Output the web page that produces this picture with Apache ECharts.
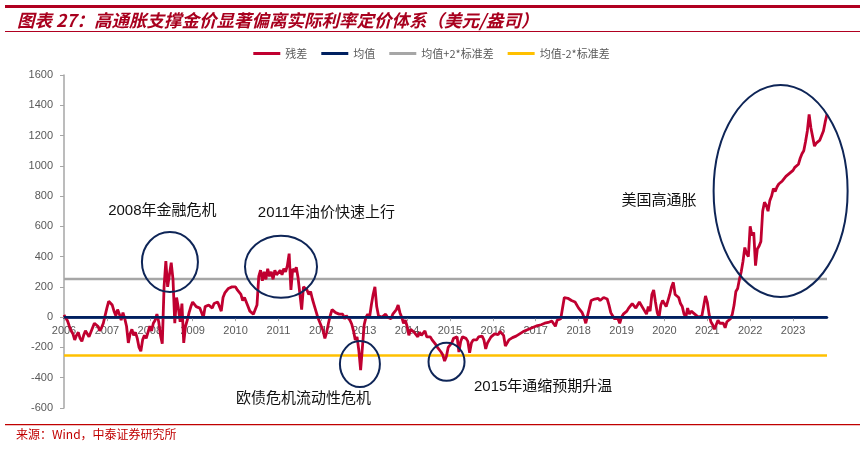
<!DOCTYPE html>
<html>
<head>
<meta charset="utf-8">
<title>高通胀支撑金价显著偏离实际利率定价体系</title>
<script src="https://cdn.jsdelivr.net/npm/echarts@6.0.0/dist/echarts.min.js"></script>
<style>
    html, body { margin: 0; padding: 0; background: #fff; }
    #main { width: 863px; height: 451px; }
</style>
</head>
<body>
<div id="main"></div>
<script type="text/javascript">
    // 残差：半月一个点，从2006年初开始
    var startYear = 2006;
    var pointsPerYear = 24;
    var resid2006 = [15, 5, -25, -60, -90, -110, -150, -120, -100, -140, -160, -120, -90, -110, -130, -100, -70, -40, -30, -60, -90, -70, -40, 10];
    var resid2007 = [60, 105, 110, 80, 40, 10, 50, 20, -20, 30, -10, -60, -170, -110, -80, -120, -100, -140, -200, -225, -150, -120, -140, -100];
    var resid2008 = [-60, -90, -40, -20, 20, -30, -120, -176, 200, 370, 200, 190, 360, 250, -40, 130, 60, -30, 90, -170, -60, -20, 30, 70];
    var resid2009 = [100, 90, 70, 80, 60, 50, 0, 70, 60, 80, 70, 60, 90, 80, 100, 90, 40, 130, 160, 170, 190, 180, 200, 190];
    var resid2010 = [200, 180, 190, 150, 110, 130, 100, 70, 40, 50, 20, 10, 80, 270, 310, 240, 300, 250, 320, 270, 300, 250, 310, 280];
    var resid2011 = [290, 310, 280, 320, 300, 340, 420, 180, 320, 300, 330, 260, 250, 50, 200, 190, 180, 150, 170, 120, 80, 40, 0, -30];
    var resid2012 = [-40, -90, -140, -100, -40, 10, 50, 55, 30, 40, 20, 10, 20, -10, 10, 0, -20, -45, -90, -150, -130, -220, -350, -200];
    var resid2013 = [-50, 0, 20, 0, 80, 150, 200, 70, 10, 20, 0, 10, 20, 0, 10, -10, 20, 10, 50, 80, 30, 0, -40, -20];
    var resid2014 = [-60, -120, -80, -90, -100, -110, -130, -100, -120, -110, -90, -130, -140, -130, -150, -160, -180, -200, -210, -230, -250, -290, -260, -200];
    var resid2015 = [-190, -170, -140, -150, -130, -230, -160, -130, -120, -140, -160, -235, -170, -150, -140, -150, -130, -140, -125, -150, -210, -170, -150, -130];
    var resid2016 = [-120, -110, -100, -115, -95, -90, -120, -190, -170, -150, -140, -135, -130, -125, -115, -110, -105, -95, -90, -85, -80, -75, -70, -65];
    var resid2017 = [-60, -55, -50, -50, -45, -40, -40, -35, -30, -25, -25, -60, -20, -30, -10, 60, 130, 120, 125, 115, 110, 105, 100, 100];
    var resid2018 = [60, 50, 30, 0, -40, 10, 60, 110, 100, 120, 115, 125, 110, 120, 130, 135, 120, 80, 30, 10, -10, 0, -10, -40];
    var resid2019 = [0, 20, 30, 40, 60, 70, 90, 80, 60, 80, 100, 90, 60, 40, 20, 70, 40, 150, 180, 100, 30, 0, 80, 110];
    var resid2020 = [90, 70, 110, 150, 200, 230, 150, 140, 130, 90, 70, 20, 0, 60, 20, 40, 50, 20, 30, 0, -10, 10, 0, 140];
    var resid2021 = [100, 20, -30, -50, -80, -70, -20, -40, -50, -40, -70, -30, -20, -10, 20, 80, 170, 190, 250, 300, 370, 460, 420, 400];
    var resid2022 = [600, 540, 560, 340, 450, 470, 500, 700, 760, 740, 700, 770, 800, 850, 830, 860, 880, 870, 900, 890, 930, 920, 950, 960];
    var resid2023 = [970, 990, 980, 1010, 1050, 1080, 1100, 1160, 1230, 1340, 1250, 1240, 1130, 1150, 1160, 1170, 1200, 1230, 1290, 1340];

    var meanLevel = 0;
    var upperLevel = 253;   // 均值+2*标准差
    var lowerLevel = -253;  // 均值-2*标准差

    var seriesNames = ['残差', '均值', '均值+2*标准差', '均值-2*标准差'];
    var yearTicks = [2006, 2007, 2008, 2009, 2010, 2011, 2012, 2013, 2014, 2015, 2016, 2017, 2018, 2019, 2020, 2021, 2022, 2023];

    var residual = [].concat(resid2006, resid2007, resid2008, resid2009, resid2010, resid2011,
        resid2012, resid2013, resid2014, resid2015, resid2016, resid2017, resid2018, resid2019,
        resid2020, resid2021, resid2022, resid2023);
    var residData = residual.map(function (v, i) { return [startYear + i / pointsPerYear, v]; });
    var endYear = startYear + (residual.length - 1) / pointsPerYear;

    var flat = function (v) { return [[startYear, v], [endYear, v]]; };

    // 标注：椭圆中心和文字位置（数据坐标），半径为像素
    var rings = [
        { x: 2008.47, y: 365, rx: 28, ry: 30 },
        { x: 2011.06, y: 333, rx: 36, ry: 31 },
        { x: 2012.90, y: -310, rx: 20, ry: 23 },
        { x: 2014.92, y: -295, rx: 18, ry: 19 },
        { x: 2022.71, y: 834, rx: 67, ry: 106 }
    ];
    var notes = [
        { text: '2008年金融危机', x: 2007.03, y: 702 },
        { text: '2011年油价快速上行', x: 2010.52, y: 687 },
        { text: '欧债危机流动性危机', x: 2010.01, y: -542 },
        { text: '2015年通缩预期升温', x: 2015.56, y: -460 },
        { text: '美国高通胀', x: 2019.0, y: 766 }
    ];

    var numFont = '"Liberation Sans", "Noto Sans CJK SC", sans-serif';
    var cjkFont = '"Noto Sans CJK SC", sans-serif';

    var myChart = echarts.init(document.getElementById('main'), null, { renderer: 'canvas' });
    var chart_option = {
        animation: false,
        backgroundColor: '#fff',
        grid: { left: 64, right: 36, top: 75, bottom: 43, containLabel: false },
        legend: {
            data: seriesNames,
            top: 43,
            left: 'center',
            icon: 'rect',
            itemWidth: 27,
            itemHeight: 3,
            itemGap: 14,
            textStyle: { fontSize: 11, color: '#595959', fontFamily: cjkFont }
        },
        xAxis: {
            type: 'value',
            min: startYear,
            max: endYear,
            axisLine: { show: true, onZero: false, lineStyle: { color: '#002060', width: 2.5 } },
            axisTick: { show: true, customValues: yearTicks, length: 4, lineStyle: { color: '#A6A6A6', width: 1 } },
            axisLabel: {
                customValues: yearTicks,
                color: '#595959',
                fontSize: 11,
                fontFamily: numFont,
                margin: 8,
                formatter: function (v) { return String(Math.round(v)); }
            },
            splitLine: { show: false }
        },
        yAxis: {
            type: 'value',
            min: -600,
            max: 1600,
            interval: 200,
            axisLine: { show: true, lineStyle: { color: '#A6A6A6', width: 1.5 } },
            axisTick: { show: true, length: 4, lineStyle: { color: '#A6A6A6' } },
            axisLabel: {
                color: '#595959', fontSize: 11, fontFamily: numFont, margin: 11,
                formatter: function (v) { return String(v); }
            },
            splitLine: { show: false }
        },
        series: [
            {
                name: seriesNames[0], type: 'line', data: residData, showSymbol: false, symbol: 'none', z: 3,
                lineStyle: { color: '#C00030', width: 2.8 }, itemStyle: { color: '#C00030' }
            },
            {
                name: seriesNames[1], type: 'line', data: flat(meanLevel), showSymbol: false, symbol: 'none', z: 4,
                lineStyle: { color: '#002060', width: 2.5 }, itemStyle: { color: '#002060' }
            },
            {
                name: seriesNames[2], type: 'line', data: flat(upperLevel), showSymbol: false, symbol: 'none', z: 2,
                lineStyle: { color: '#A6A6A6', width: 2.5 }, itemStyle: { color: '#A6A6A6' }
            },
            {
                name: seriesNames[3], type: 'line', data: flat(lowerLevel), showSymbol: false, symbol: 'none', z: 2,
                lineStyle: { color: '#FFC000', width: 2.5 }, itemStyle: { color: '#FFC000' }
            }
        ]
    };
    myChart.setOption(chart_option);

    // x轴放到0刻度处
    var zeroPx = myChart.convertToPixel({ yAxisIndex: 0 }, meanLevel);
    var bottomPx = myChart.convertToPixel({ yAxisIndex: 0 }, -600);
    myChart.setOption({ xAxis: { offset: -(bottomPx - zeroPx) } });

    // 标题、分隔线、来源和标注
    var graphics = [
        { type: 'rect', shape: { x: 5, y: 5, width: 855, height: 3 }, style: { fill: '#B00020' } },
        {
            type: 'text', x: 17, y: 20,
            style: { text: '图表 27：高通胀支撑金价显著偏离实际利率定价体系（美元/盎司）', font: 'italic bold 17.5px "Noto Sans CJK SC"', fill: '#A8001E', verticalAlign: 'middle' }
        },
        { type: 'rect', shape: { x: 5, y: 31, width: 855, height: 1 }, style: { fill: '#B00020' } },
        { type: 'rect', shape: { x: 5, y: 424, width: 855, height: 1.2 }, style: { fill: '#C00000' } },
        {
            type: 'text', x: 16, y: 434,
            style: { text: '来源：Wind，中泰证券研究所', font: '12px "Noto Sans CJK SC"', fill: '#C00000', verticalAlign: 'middle' }
        }
    ];
    rings.forEach(function (r) {
        var p = myChart.convertToPixel({ gridIndex: 0 }, [r.x, r.y]);
        graphics.push({
            type: 'ellipse', z: 10,
            shape: { cx: p[0], cy: p[1], rx: r.rx, ry: r.ry },
            style: { fill: 'none', stroke: '#0E2557', lineWidth: 2 }
        });
    });
    notes.forEach(function (n) {
        var p = myChart.convertToPixel({ gridIndex: 0 }, [n.x, n.y]);
        graphics.push({
            type: 'text', x: p[0], y: p[1], z: 10,
            style: { text: n.text, font: '15px ' + numFont, fill: '#111', verticalAlign: 'middle' }
        });
    });
    myChart.setOption({ graphic: graphics });
</script>
</body>
</html>
